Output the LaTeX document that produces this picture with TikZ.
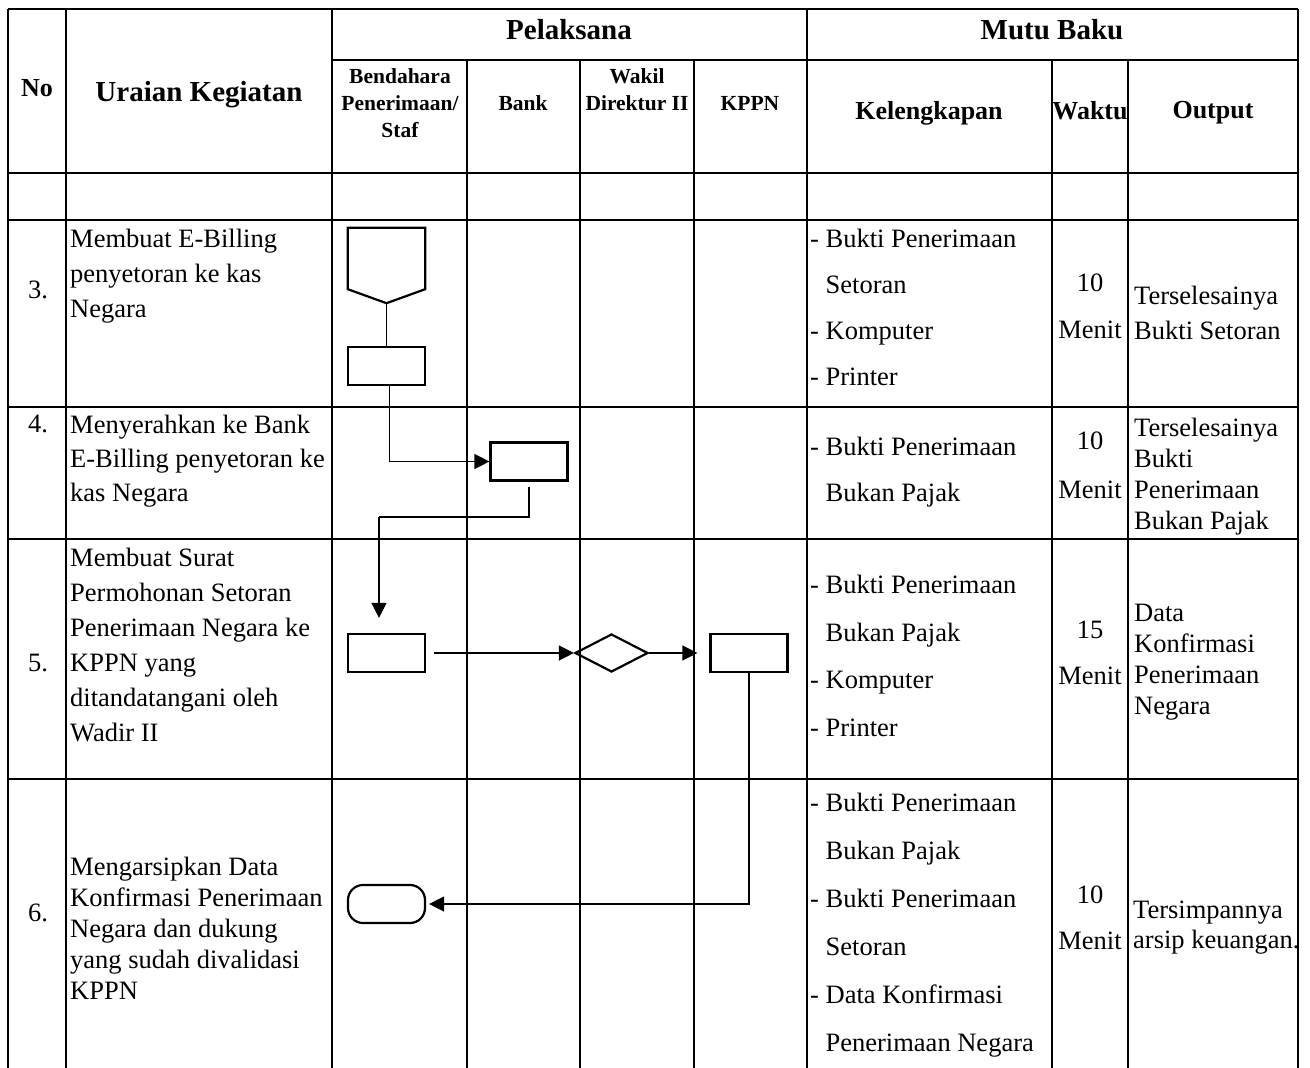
\documentclass[tikz,border=0pt]{standalone}
\usepackage{fontspec}
\setmainfont{Liberation Serif}
\usetikzlibrary{shapes.geometric,arrows.meta}
\newcommand{\bodysize}[1]{\fontsize{26.5}{#1}\selectfont}
\tikzstyle{tabline}=[line width=1.1pt]
\tikzstyle{process}=[rectangle,minimum width=77pt,minimum height=38pt,inner sep=0pt,draw=black,line width=2.2pt]
\tikzstyle{decision}=[diamond,minimum width=73pt,minimum height=38pt,inner sep=0pt,draw=black,line width=2.2pt]
\tikzstyle{terminal}=[rectangle,rounded corners=15pt,minimum width=77pt,minimum height=38pt,inner sep=0pt,draw=black,line width=2.2pt]
\tikzstyle{offpage}=[rectangle,minimum width=77pt,minimum height=61pt,inner sep=0pt]
\tikzstyle{flow}=[line width=1.4pt]
\tikzstyle{arrow}=[line width=1.4pt,-{Triangle[length=15pt,width=15pt]}]
\tikzstyle{hdr}=[font=\fontsize{29}{34}\selectfont\bfseries]
\tikzstyle{subhdr}=[font=\fontsize{26}{30}\selectfont\bfseries]
\tikzstyle{lanehdr}=[font=\fontsize{21.5}{27}\selectfont\bfseries,align=center]
\tikzstyle{cell}=[anchor=north west,inner sep=0pt,align=left]
\tikzstyle{nocell}=[font=\bodysize{30}]
\tikzstyle{timecell}=[anchor=north,inner sep=0pt,align=center]

\begin{document}
\begin{tikzpicture}[x=1pt,y=-1pt]
    \useasboundingbox (0,0) rectangle (1310,1068);

    % table grid
    \draw[tabline] (8,9) -- (1298,9);
    \draw[tabline] (332,60) -- (1298,60);
    \draw[tabline] (8,173) -- (1298,173);
    \draw[tabline] (8,220) -- (1298,220);
    \draw[tabline] (8,407) -- (1298,407);
    \draw[tabline] (8,539) -- (1298,539);
    \draw[tabline] (8,779) -- (1298,779);
    \draw[tabline] (8,9) -- (8,1068);
    \draw[tabline] (66,9) -- (66,1068);
    \draw[tabline] (332,9) -- (332,1068);
    \draw[tabline] (467,60) -- (467,1068);
    \draw[tabline] (580,60) -- (580,1068);
    \draw[tabline] (694,60) -- (694,1068);
    \draw[tabline] (807,9) -- (807,1068);
    \draw[tabline] (1052,60) -- (1052,1068);
    \draw[tabline] (1128,60) -- (1128,1068);
    \draw[tabline] (1298,9) -- (1298,1068);

    % header
    \node (no) [subhdr] at (37,88) {No};
    \node (uraian) [hdr] at (199,95) {Uraian Kegiatan};
    \node (pelaksana) [hdr] at (569,30) {Pelaksana};
    \node (mutu) [hdr] at (1052,30) {Mutu Baku};
    \node (bendahara) [lanehdr] at (400,103) {Bendahara\\Penerimaan/\\Staf};
    \node (bank) [lanehdr] at (523,103) {Bank};
    \node (wadir) [lanehdr] at (637,90) {Wakil\\Direktur II};
    \node (kppn) [lanehdr] at (750,103) {KPPN};
    \node (kelengkapan) [subhdr] at (929,113) {Kelengkapan};
    \node (waktu) [subhdr] at (1090,111) {Waktu};
    \node (output) [subhdr] at (1213,113) {Output};

    % nomor
    \node (no3) [nocell] at (38,290) {3.};
    \node (no4) [nocell] at (38,424) {4.};
    \node (no5) [nocell] at (38,663) {5.};
    \node (no6) [nocell] at (38,913) {6.};

    % uraian kegiatan
    \node (ur3) [cell,font=\bodysize{35}] at (70,229) {Membuat E-Billing\\penyetoran ke kas\\Negara};
    \node (ur4) [cell,font=\bodysize{34}] at (70,415) {Menyerahkan ke Bank\\E-Billing penyetoran ke\\kas Negara};
    \node (ur5) [cell,font=\bodysize{35}] at (70,548) {Membuat Surat\\Permohonan Setoran\\Penerimaan Negara ke\\KPPN yang\\ditandatangani oleh\\Wadir II};
    \node (ur6) [cell,font=\bodysize{31}] at (70,857) {Mengarsipkan Data\\Konfirmasi Penerimaan\\Negara dan dukung\\yang sudah divalidasi\\KPPN};

    % kelengkapan
    \node (kl3) [cell,font=\bodysize{46}] at (810,229) {- Bukti Penerimaan\\\hphantom{- }Setoran\\- Komputer\\- Printer};
    \node (kl4) [cell,font=\bodysize{46}] at (810,437) {- Bukti Penerimaan\\\hphantom{- }Bukan Pajak};
    \node (kl5) [cell,font=\bodysize{47.5}] at (810,575) {- Bukti Penerimaan\\\hphantom{- }Bukan Pajak\\- Komputer\\- Printer};
    \node (kl6) [cell,font=\bodysize{48}] at (810,793) {- Bukti Penerimaan\\\hphantom{- }Bukan Pajak\\- Bukti Penerimaan\\\hphantom{- }Setoran\\- Data Konfirmasi\\\hphantom{- }Penerimaan Negara};

    % waktu
    \node (wk3) [timecell,font=\bodysize{47}] at (1090,274) {10\\Menit};
    \node (wk4) [timecell,font=\bodysize{49}] at (1090,432) {10\\Menit};
    \node (wk5) [timecell,font=\bodysize{46}] at (1090,621) {15\\Menit};
    \node (wk6) [timecell,font=\bodysize{46}] at (1090,886) {10\\Menit};

    % output
    \node (out3) [cell,font=\bodysize{35}] at (1134,286) {Terselesainya\\Bukti Setoran};
    \node (out4) [cell,font=\bodysize{31}] at (1134,418) {Terselesainya\\Bukti\\Penerimaan\\Bukan Pajak};
    \node (out5) [cell,font=\bodysize{31}] at (1134,604) {Data\\Konfirmasi\\Penerimaan\\Negara};
    \node (out6) [cell,font=\bodysize{30}] at (1133,901) {Tersimpannya\\arsip keuangan.};

    % flow
    \node (conn) [offpage] at (386.5,258.5) {};
    \coordinate (conntip) at ([yshift=-14pt]conn.south);
    \draw[line width=2.2pt] (conn.south west) -- (conn.north west) -- (conn.north east) -- (conn.south east) -- (conntip) -- cycle;
    \node (ebill) [process] at (386.5,366) {};
    \node (serah) [process] at (529,461.5) {};
    \node (surat) [process] at (386.5,653) {};
    \node (ttd) [decision] at (611.5,653) {};
    \node (kirim) [process] at (749,653) {};
    \node (arsip) [terminal] at (386.5,904) {};
    \coordinate (bend) at (379,517);

    \draw [flow] (conntip) -- (ebill);
    \draw [arrow] ([xshift=3pt]ebill.south) |- (serah.west);
    \draw [flow] ([yshift=-5pt]serah.south) |- (bend);
    \draw [arrow,shorten >=15pt] (bend) -- (bend |- surat.north);
    \draw [arrow,shorten <=8pt] (surat) -- (ttd);
    \draw [arrow,shorten >=12pt] (ttd) -- (kirim);
    \draw [arrow,shorten >=3pt] (kirim.south) |- (arsip.east);

\end{tikzpicture}
\end{document}
